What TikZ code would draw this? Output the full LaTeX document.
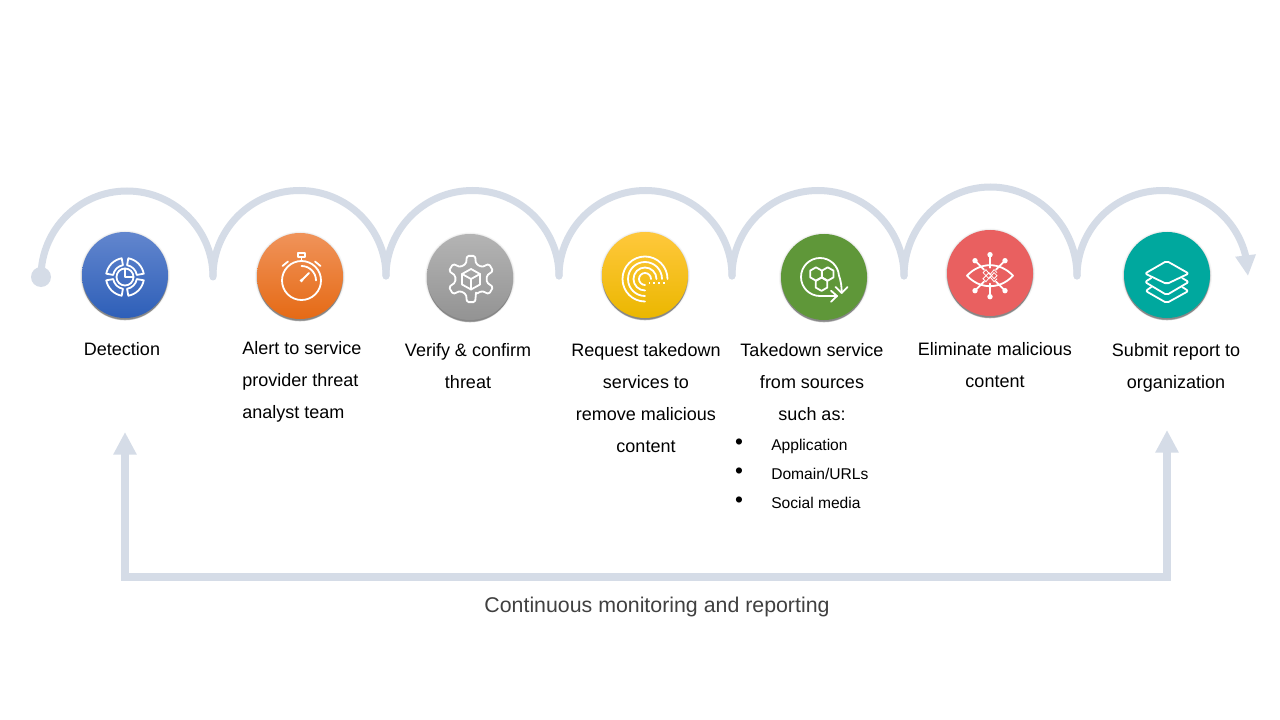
\documentclass[tikz,border=0pt]{standalone}
\usepackage{fontspec}
\setmainfont{Liberation Sans}
\usetikzlibrary{arrows.meta,bending}
\definecolor{track}{HTML}{D5DCE7}
\definecolor{txtgray}{HTML}{404040}
\tikzset{
  trackline/.style={draw=track,line width=5.25pt,line cap=round},
  framearrow/.style={draw=track,line width=6pt,line join=miter,{Triangle[length=17pt,width=16.5pt]}-{Triangle[length=17pt,width=16.5pt]}},
  disc/.style={circle,minimum size=64.5pt,inner sep=0pt,draw=none},
  icon/.style={draw=white,line width=1.35pt,line cap=round,line join=round},
  thinicon/.style={draw=white,line width=.6pt},
  label/.style={inner sep=0pt,font=\fontsize{13.5}{24}\selectfont,text=black},
  small/.style={inner sep=0pt,font=\fontsize{11.7}{14}\selectfont,text=black},
  bul/.style={inner sep=0pt,font=\fontsize{17}{17}\selectfont,text=black},
}
\newcommand{\softshadow}[2]{%
  \fill[black,opacity=.04] (#1,#2+.5) circle[radius=45];
  \fill[black,opacity=.06] (#1,#2+.5) circle[radius=44];
  \fill[black,opacity=.12] (#1,#2+1) circle[radius=43.5];
  \fill[black,opacity=.16] (#1,#2+2) circle[radius=43];
  \fill[black,opacity=.2] (#1,#2+3) circle[radius=42.3];}
\newcommand{\isect}[2]{(#1:12) -- (#1:19) arc[start angle=#1,end angle=#2,radius=19] -- (#2:12) arc[start angle=#2,end angle=#1,radius=12] -- cycle}
\begin{document}
\begin{tikzpicture}[x=.75pt,y=-.75pt]
\path[use as bounding box,fill=white] (0,0) rectangle (1280,720);
% path anchors
\coordinate (p0) at (41,277);
\coordinate (p1) at (213,276);
\coordinate (p2) at (386,276);
\coordinate (p3) at (559,276);
\coordinate (p4) at (732,276);
\coordinate (p5) at (904,276);
\coordinate (p6) at (1077,276);
\coordinate (f1) at (125,432);
\coordinate (f2) at (125,577);
\coordinate (f3) at (1167,577);
\coordinate (f4) at (1167,430);
% arcs
\draw[trackline] (p0) arc[start angle=180,end angle=360,x radius=86,y radius=86];
\draw[trackline] (p1) arc[start angle=180,end angle=360,x radius=86.5,y radius=85.5];
\draw[trackline] (p2) arc[start angle=180,end angle=360,x radius=86.5,y radius=85.5];
\draw[trackline] (p3) arc[start angle=180,end angle=360,x radius=86.5,y radius=85.5];
\draw[trackline] (p4) arc[start angle=180,end angle=360,x radius=86,y radius=85.5];
\draw[trackline] (p5) arc[start angle=180,end angle=360,x radius=86.5,y radius=89];
\draw[trackline,-{Triangle[length=15.5pt,width=14.5pt,flex]}] (p6) arc[start angle=180,end angle=360,x radius=85.5,y radius=85.5];
\fill[track] (p0) circle[radius=10];
\draw[framearrow] (f1) -- (f2) -- (f3) -- (f4);
% discs
\softshadow{125}{275}
\node[disc,top color={rgb,255:red,98;green,134;blue,206},middle color={rgb,255:red,62;green,111;blue,199},bottom color={rgb,255:red,46;green,95;blue,184}] (c1) at (125,275) {};
\softshadow{300}{276}
\node[disc,top color={rgb,255:red,240;green,147;blue,90},middle color={rgb,255:red,244;green,124;blue,44},bottom color={rgb,255:red,229;green,106;blue,21}] (c2) at (300,276) {};
\softshadow{470}{277}
\node[disc,top color={rgb,255:red,180;green,180;blue,180},middle color={rgb,255:red,165;green,165;blue,165},bottom color={rgb,255:red,147;green,147;blue,147}] (c3) at (470,277) {};
\softshadow{645}{275}
\node[disc,top color={rgb,255:red,255;green,200;blue,60},middle color={rgb,255:red,255;green,192;blue,0},bottom color={rgb,255:red,235;green,183;blue,0}] (c4) at (645,275) {};
\softshadow{824}{277}
\node[disc,fill={rgb,255:red,95;green,151;blue,57}] (c5) at (824,277) {};
\softshadow{990}{273}
\node[disc,fill={rgb,255:red,233;green,96;blue,96}] (c6) at (990,273) {};
\softshadow{1167}{275}
\node[disc,fill={rgb,255:red,0;green,168;blue,158}] (c7) at (1167,275) {};
% icon 1: detection
\begin{scope}[shift={(125,277)}]
  \draw[icon] (0,0) circle[radius=8.5];
  \draw[icon] (0,-8.5) -- (0,0) -- (8.5,0);
  \draw[icon] \isect{10}{80} \isect{100}{170} \isect{190}{260} \isect{280}{350};
\end{scope}
% icon 2: stopwatch
\begin{scope}[shift={(301.5,280.5)}]
  \draw[icon] (0,0) circle[radius=19.5];
  \draw[icon] (-3.5,-27.5) rectangle (3.5,-23.5);
  \draw[icon] (0,-23.5) -- (0,-19.5);
  \draw[icon] (-19,-14.5) -- (-13.5,-19);
  \draw[icon] (13.5,-19) -- (19,-14.5);
  \draw[icon] (0,-14.5) arc[start angle=270,end angle=360,radius=14.5];
  \draw[icon] (0,0) -- (7.5,-7.5);
  \fill[white] (0,0) circle[radius=1.8];
\end{scope}
% icon 3: gear
\begin{scope}[shift={(471,279)}]
  \draw[icon,rounded corners=1.2pt] (90-18:16)
    \foreach \a in {90,150,210,270,330,390}{ -- (\a-18:16) -- (\a-10:23.5) -- (\a+10:23.5) -- (\a+18:16) } -- cycle;
  \draw[icon] (0,-10) -- (9,-5) -- (9,5.5) -- (0,10.5) -- (-9,5.5) -- (-9,-5) -- cycle;
  \draw[icon] (-9,-5) -- (0,0) -- (9,-5) (0,0) -- (0,10.5);
\end{scope}
% icon 4: concentric arcs
\begin{scope}[shift={(645,279)}]
  \foreach \r in {22.5,17,11.5,6}{\draw[icon] (\r,0) arc[start angle=0,end angle=-270,radius=\r];}
  \draw[icon,line cap=butt,dash pattern=on 1.4pt off 2.2pt] (3.5,3.8) -- (22.5,3.8);
\end{scope}
% icon 5: hexagons and cycle
\begin{scope}[shift={(820,277)}]
  \foreach \hx/\hy in {-4/-3,7.7/-3,1.5/7.2}{
    \draw[icon] (\hx,\hy-6.7) -- (\hx+5.8,\hy-3.35) -- (\hx+5.8,\hy+3.35) -- (\hx,\hy+6.7) -- (\hx-5.8,\hy+3.35) -- (\hx-5.8,\hy-3.35) -- cycle;}
  \draw[icon] (17,19) -- (0,19) arc[start angle=90,end angle=355,radius=19] .. controls (21,4) and (21.7,10) .. (21.7,16);
  \draw[icon] (11,13.7) -- (17,19) -- (11,24.8);
  \draw[icon] (15.5,10) -- (21.7,16) -- (27.5,10);
\end{scope}
% icon 6: eye
\begin{scope}[shift={(990,275.7)}]
  \draw[icon] (-23,0) .. controls (-10,-14) and (10,-14) .. (23,0) .. controls (10,14) and (-10,14) .. (-23,0) -- cycle;
  \foreach \ex/\ey/\fx/\fy in {0/-21/0/-8,15/-15/6/-6,-15/-15/-6/-6,0/21/0/8,15/15/6/6,-15/15/-6/6}{
    \draw[icon] (\ex,\ey) -- (\fx,\fy);
    \fill[white] (\ex,\ey) circle[radius=2.7];}
  \draw[thinicon] (-7,-3) -- (-1,3) -- (4,-3) -- (7,0) -- (4,3) -- (-1,-3) -- (-7,3) -- (-4,6) -- (0,1) -- (4,6) -- (7,3) (-7,-3) -- (-4,-6) -- (0,-1) -- (4,-6) -- (7,-3);
\end{scope}
% icon 7: layers
\begin{scope}[shift={(1166.7,272)}]
  \draw[icon,rounded corners=1.5pt] (0,-11) -- (22,1.5) -- (0,12) -- (-21.7,1.5) -- cycle;
  \draw[icon,rounded corners=1.5pt] (-15.5,6) -- (-21.7,10) -- (0,23) -- (22,10) -- (15.5,6);
  \draw[icon,rounded corners=1.5pt] (-15.5,15) -- (-21,19) -- (0,31) -- (21.7,19) -- (15.5,15);
\end{scope}
% labels
\node[label] (t1) at (122,349) {Detection};
\node[label,align=left,anchor=north west] (t2) at (242,341) {Alert to service\\provider threat\\analyst team};
\node[label,align=center] (t3) at (468,366) {Verify \& confirm\\threat};
\node[label,align=center] (t4) at (646,398) {Request takedown\\services to\\remove malicious\\content};
\node[label,align=center] (t5) at (812,382) {Takedown service\\from sources\\such as:};
\node[small,anchor=base west] (b1) at (771,450) {Application};
\node[small,anchor=base west] (b2) at (771,479) {Domain/URLs};
\node[small,anchor=base west] (b3) at (771,508) {Social media};
\node[bul] (d1) at (739,444) {•};
\node[bul] (d2) at (739,473) {•};
\node[bul] (d3) at (739,502) {•};
\node[label,align=center] (t6) at (995,365) {Eliminate malicious\\content};
\node[label,align=center] (t7) at (1176,368) {Submit report to\\organization};
\node[inner sep=0pt,font=\fontsize{16}{18}\selectfont,text=txtgray] (t8) at (657,606.5) {Continuous monitoring and reporting};
\end{tikzpicture}
\end{document}
